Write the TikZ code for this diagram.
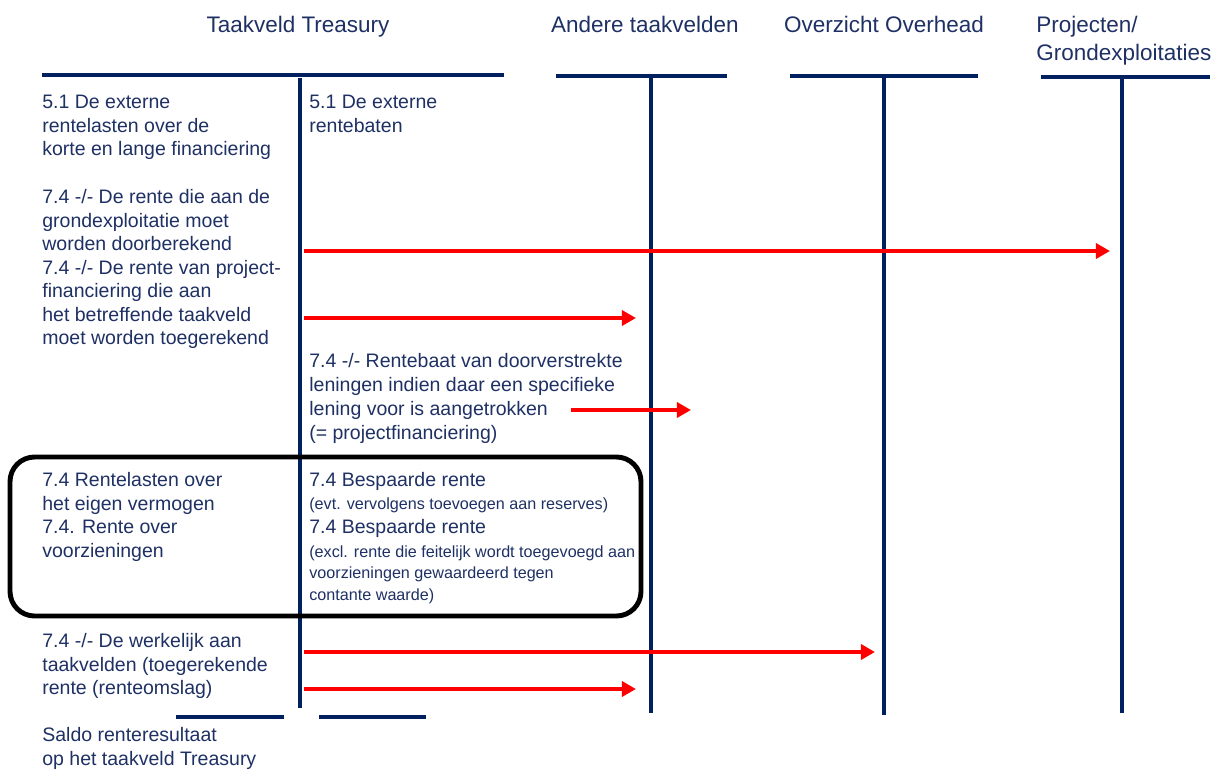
\documentclass[tikz,border=0pt]{standalone}
\usepackage{fontspec}
\setmainfont{Liberation Sans}
\usetikzlibrary{arrows.meta}
\definecolor{navy}{RGB}{0,32,96}
\definecolor{inkblue}{RGB}{30,48,100}

\begin{document}
\begin{tikzpicture}[x=0.02cm,y=-0.02cm,
  bar/.style={navy, line width=2.6pt},
  stem/.style={navy, line width=2.4pt},
  frame/.style={black, line width=2.8pt, rounded corners=14pt},
  flow/.style={red, line width=2.4pt, -{Triangle[length=8pt,width=8.5pt]}},
  head/.style={inkblue, inner sep=0, anchor=base, font=\fontsize{12.8}{16}\selectfont},
  txt/.style={inkblue, inner sep=0, anchor=north west, align=left, font=\fontsize{11.1}{13.4}\selectfont},
  note/.style={txt, font=\fontsize{9.2}{12.3}\selectfont}]
\useasboundingbox (0,0) rectangle (1213,771);

\node[head] (hd0) at (298,32) {Taakveld Treasury};
\node[head] (hd1) at (645,32) {Andere taakvelden};
\node[head] (hd2) at (884,32) {Overzicht Overhead};
\node[head, anchor=north west, align=left] (hd3) at (1036,16) {Projecten/\\Grondexploitaties};

\coordinate (b0l) at (42,75);   \coordinate (b0r) at (504,75);
\coordinate (b1l) at (556,76);  \coordinate (b1r) at (727,76);
\coordinate (b2l) at (790,76);  \coordinate (b2r) at (978,76);
\coordinate (b3l) at (1041,77); \coordinate (b3r) at (1210,77);
\coordinate (b4l) at (176,717); \coordinate (b4r) at (284,717);
\coordinate (b5l) at (319,717); \coordinate (b5r) at (426,717);
\draw[bar] (b0l) -- (b0r);
\draw[bar] (b1l) -- (b1r);
\draw[bar] (b2l) -- (b2r);
\draw[bar] (b3l) -- (b3r);
\draw[bar] (b4l) -- (b4r);
\draw[bar] (b5l) -- (b5r);

\coordinate (s0t) at (300,78);  \coordinate (s0b) at (300,708);
\coordinate (s1t) at (651,76);  \coordinate (s1b) at (651,713);
\coordinate (s2t) at (884,76);  \coordinate (s2b) at (884,715);
\coordinate (s3t) at (1122,77); \coordinate (s3b) at (1122,713);
\draw[stem] (s0t) -- (s0b);
\draw[stem] (s1t) -- (s1b);
\draw[stem] (s2t) -- (s2b);
\draw[stem] (s3t) -- (s3b);

\node[txt] (l0) at (42,95) {5.1 De externe\\rentelasten over de\\korte en lange financiering};
\node[txt] (l1) at (42,189) {7.4 -/- De rente die aan de\\grondexploitatie moet\\worden doorberekend\\7.4 -/- De rente van project-\\financiering die aan\\het betreffende taakveld\\moet worden toegerekend};
\node[txt] (r0) at (309,95) {5.1 De externe\\rentebaten};
\node[txt, font=\fontsize{11.1}{13.7}\selectfont] (r1) at (309,353) {7.4 -/- Rentebaat van doorverstrekte\\leningen indien daar een specifieke\\lening voor is aangetrokken\\(= projectfinanciering)};

\node[txt] (l2) at (42,472) {7.4 Rentelasten over\\het eigen vermogen\\7.4. Rente over\\voorzieningen};
\node[txt] (r2) at (309,472) {7.4 Bespaarde rente};
\node[note] (r3) at (309,497) {(evt. vervolgens toevoegen aan reserves)};
\node[txt] (r4) at (309,519) {7.4 Bespaarde rente};
\node[note] (r5) at (309,545) {(excl. rente die feitelijk wordt toegevoegd aan\\voorzieningen gewaardeerd tegen\\contante waarde)};
\draw[frame] (10,457) rectangle (641,616);

\node[txt] (l3) at (42,633) {7.4 -/- De werkelijk aan\\taakvelden (toegerekende\\rente (renteomslag)};
\node[txt, font=\fontsize{11.1}{13.8}\selectfont] (l4) at (42,727) {Saldo renteresultaat\\op het taakveld Treasury};

\coordinate (f0s) at (304,251); \coordinate (f0e) at (1110,251);
\coordinate (f1s) at (304,318); \coordinate (f1e) at (636,318);
\coordinate (f2s) at (571,410); \coordinate (f2e) at (691,410);
\coordinate (f3s) at (304,652); \coordinate (f3e) at (875,652);
\coordinate (f4s) at (304,689); \coordinate (f4e) at (636,689);
\draw[flow] (f0s) -- (f0e);
\draw[flow] (f1s) -- (f1e);
\draw[flow] (f2s) -- (f2e);
\draw[flow] (f3s) -- (f3e);
\draw[flow] (f4s) -- (f4e);

\end{tikzpicture}
\end{document}
